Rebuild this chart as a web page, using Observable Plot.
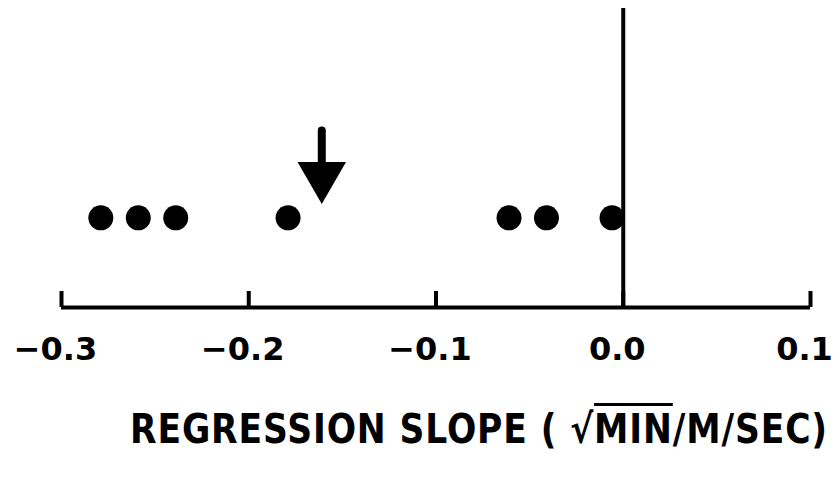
<!DOCTYPE html>
<html><head><meta charset="utf-8">
<script src="https://cdn.jsdelivr.net/npm/d3@7"></script>
<script src="https://cdn.jsdelivr.net/npm/@observablehq/plot@0.6"></script>
<style>
body{margin:0;background:#fff;}
#wrap{position:relative;width:837px;height:477px;overflow:hidden;}
#title{position:absolute;left:130px;top:406px;font-family:"DejaVu Sans",sans-serif;font-weight:bold;font-size:40px;letter-spacing:1px;white-space:nowrap;color:#000;transform-origin:0 0;}
#title .ov{text-decoration:overline;text-decoration-thickness:3px;}
</style></head>
<body><div id="wrap"><div id="chart"></div><div id="title">REGRESSION SLOPE ( √<span class="ov">MIN</span>/M/SEC)</div></div>
<script>
const slopes = [-0.279, -0.259, -0.239, -0.179, -0.061, -0.041, -0.006];
const rowLevel = 0.3;
const arrowX = [-0.161];
const arrowShaft = [0.59, 0.46];
const arrowHeadY = 0.44;
const tickValues = [-0.3, -0.2, -0.1, 0.0, 0.1];
const tickLabels = ["−0.3", "−0.2", "−0.1", "0.0", "0.1"];

const pts = slopes.map(s => ({x: s, y: rowLevel}));
const chart = Plot.plot({
  width: 837, height: 380,
  marginLeft: 61, marginRight: 27, marginTop: 8, marginBottom: 73,
  x: {domain: [-0.3, 0.1], label: null},
  y: {domain: [0, 1], axis: null},
  style: {fontFamily: "'DejaVu Sans',sans-serif", fontWeight: "bold", color: "#000", overflow: "visible"},
  marks: [
    Plot.ruleY([0], {x1: -0.3, x2: 0.1, stroke: "#000", strokeWidth: 4}),
    Plot.ruleX(tickValues, {x: d => d, insetTop: 283, stroke: "#000", strokeWidth: 4}),
    Plot.ruleX([0], {stroke: "#000", strokeWidth: 4}),
    Plot.dot(pts, {x: "x", y: "y", r: 12.5, fill: "#000", stroke: "none"}),
    Plot.ruleX(arrowX, {x: d => d, y1: arrowShaft[0], y2: arrowShaft[1], stroke: "#000", strokeWidth: 8, strokeLinecap: "round"}),
    Plot.dot(arrowX, {x: d => d, y: arrowHeadY, symbol: "triangle", rotate: 180, r: 18, fill: "#000", stroke: "none"}),
    Plot.axisX({ticks: tickValues, tickFormat: (d, i) => tickLabels[i], tickSize: 0, tickPadding: 30, fontSize: 32, fontWeight: "bold", letterSpacing: 1.5, dx: -6, label: null})
  ]
});
document.getElementById("chart").appendChild(chart);
const t = document.getElementById("title");
const w = t.getBoundingClientRect().width;
t.style.transform = `scaleX(${698 / w})`;
</script></body></html>
